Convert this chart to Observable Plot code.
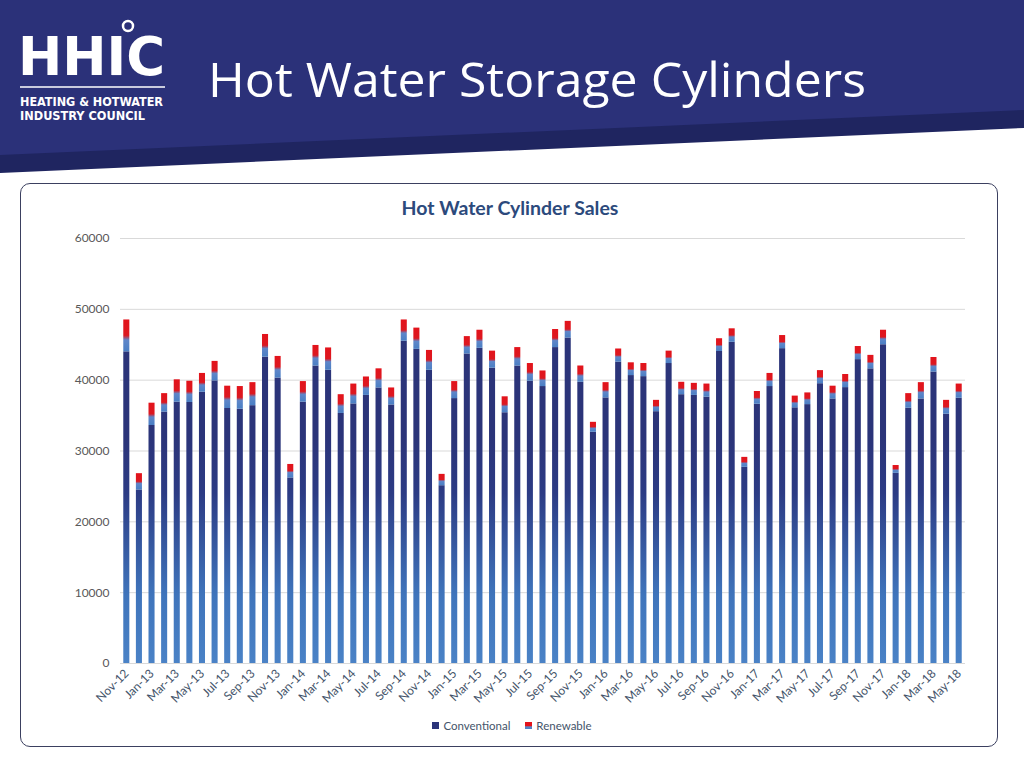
<!DOCTYPE html>
<html>
<head>
<meta charset="utf-8">
<script src="https://cdn.jsdelivr.net/npm/d3@7"></script>
<script src="https://cdn.jsdelivr.net/npm/@observablehq/plot@0.6"></script>
<style>
  html, body { margin: 0; padding: 0; background: #ffffff; }
  #page { position: relative; width: 1024px; height: 768px; overflow: hidden; background: #ffffff; }
  #header { position: absolute; left: 0; top: 0; }
  #panel { position: absolute; left: 20px; top: 183px; width: 976px; height: 562px; border: 1.5px solid #3b4060; border-radius: 10px; }
  #ctitle { position: absolute; left: 0; top: 196px; width: 1020px; text-align: center; font-family: Lato, sans-serif; font-weight: 700; font-size: 19.5px; color: #2c4a7c; }
  #chart { position: absolute; left: 20px; top: 225px; }
  #legend { position: absolute; top: 719px; left: 0; width: 1024px; text-align: center; font-family: Lato, sans-serif; font-size: 11.5px; color: #44546a; }
  #legend span.sw { display: inline-block; width: 7px; height: 7px; margin-right: 4px; vertical-align: 1px; }
  #legend span.item { margin: 0 6px; }
</style>
</head>
<body>
<div id="page">
  <svg id="header" width="1024" height="180" viewBox="0 0 1024 180">
    <polygon points="0,0 1024,0 1024,128 0,173" fill="#1f2560"></polygon>
    <polygon points="0,0 1024,0 1024,110 0,155" fill="#2b3179"></polygon>
    <text x="18" y="75" font-family="'DejaVu Sans Condensed', 'DejaVu Sans', sans-serif" font-weight="700" font-size="54" fill="#ffffff" textLength="147" lengthAdjust="spacingAndGlyphs">HHIC</text>
    <circle cx="128" cy="26" r="5" fill="none" stroke="#ffffff" stroke-width="2.5"></circle>
    <line x1="20" x2="165" y1="87" y2="87" stroke="#ffffff" stroke-width="1.5"></line>
    <text x="20" y="106" font-family="'DejaVu Sans Condensed', 'DejaVu Sans', sans-serif" font-weight="700" font-size="12.5" fill="#ffffff" textLength="143" lengthAdjust="spacingAndGlyphs">HEATING &amp; HOTWATER</text>
    <text x="20" y="120" font-family="'DejaVu Sans Condensed', 'DejaVu Sans', sans-serif" font-weight="700" font-size="12.5" fill="#ffffff" textLength="125" lengthAdjust="spacingAndGlyphs">INDUSTRY COUNCIL</text>
    <text x="208" y="97" font-family="'Open Sans', sans-serif" font-size="47" fill="#ffffff" textLength="658" lengthAdjust="spacingAndGlyphs">Hot Water Storage Cylinders</text>
  </svg>
  <div id="panel"></div>
  <div id="ctitle">Hot Water Cylinder Sales</div>
  <div id="chart"></div>
  <div id="legend">
    <span class="item"><span class="sw" style="background:#2b3479"></span>Conventional</span>
    <span class="item"><span class="sw" style="background:linear-gradient(#e3131b 0%, #e3131b 50%, #5a86c8 70%, #4a7fc4 100%)"></span>Renewable</span>
  </div>
</div>
<script>
const months = [
  "Nov-12","Dec-12",
  "Jan-13","Feb-13","Mar-13","Apr-13","May-13","Jun-13","Jul-13","Aug-13","Sep-13","Oct-13","Nov-13","Dec-13",
  "Jan-14","Feb-14","Mar-14","Apr-14","May-14","Jun-14","Jul-14","Aug-14","Sep-14","Oct-14","Nov-14","Dec-14",
  "Jan-15","Feb-15","Mar-15","Apr-15","May-15","Jun-15","Jul-15","Aug-15","Sep-15","Oct-15","Nov-15","Dec-15",
  "Jan-16","Feb-16","Mar-16","Apr-16","May-16","Jun-16","Jul-16","Aug-16","Sep-16","Oct-16","Nov-16","Dec-16",
  "Jan-17","Feb-17","Mar-17","Apr-17","May-17","Jun-17","Jul-17","Aug-17","Sep-17","Oct-17","Nov-17","Dec-17",
  "Jan-18","Feb-18","Mar-18","Apr-18","May-18"
];
const conventional = [
  44000, 24500,
  33600, 35500, 36900, 36850, 38300, 39900, 36000, 35900, 36400, 43250, 40300, 26200,
  36900, 42000, 41400, 35300, 36650, 37850, 38900, 36500, 45500, 44350, 41400, 25100,
  37400, 43700, 44500, 41700, 35400, 42000, 39850, 39100, 44600, 45950, 39700, 32650,
  37500, 42550, 40650, 40500, 35550, 42350, 37950, 37850, 37600, 44050, 45350, 27700,
  36600, 39100, 44450, 36100, 36550, 39500, 37350, 38950, 42900, 41600, 45000, 26850,
  36050, 37350, 41150, 35200, 37450
];
const renewable = [
  4500, 2300,
  3150, 2600, 3150, 3000, 2650, 2750, 3150, 3200, 3250, 3200, 3050, 1900,
  2900, 2900, 3150, 2650, 2800, 2600, 2700, 2400, 3000, 3000, 2800, 1600,
  2400, 2450, 2550, 2400, 2250, 2600, 2500, 2200, 2550, 2350, 2300, 1400,
  2150, 1850, 1800, 1850, 1600, 1750, 1750, 1700, 1850, 1800, 1900, 1400,
  1800, 1850, 1850, 1650, 1650, 1850, 1800, 1850, 1850, 1900, 2050, 1100,
  2050, 2300, 2050, 1950, 2000
];
const yTicks = [0, 10000, 20000, 30000, 40000, 50000, 60000];
const xTickLabels = months.filter((d, i) => i % 2 === 0);

const rows = months.map((m, i) => ({
  month: m,
  conv: conventional[i],
  total: conventional[i] + renewable[i]
}));

const chart = Plot.plot({
  width: 980,
  height: 490,
  marginLeft: 100,
  marginRight: 35,
  marginTop: 13,
  marginBottom: 52,
  style: {background: "transparent", fontFamily: "Lato, sans-serif", fontSize: "12px"},
  x: {domain: months, paddingInner: 0.52, paddingOuter: 0.26, axis: null, label: null},
  y: {domain: [0, 60000], axis: null, label: null},
  marks: [
    Plot.gridY(yTicks, {stroke: "#d9d9d9", strokeOpacity: 1}),
    Plot.barY(rows, {x: "month", y1: 0, y2: "conv", fill: "url(#gConv)"}),
    Plot.barY(rows, {x: "month", y1: "conv", y2: "total", fill: "url(#gRen)"}),
    Plot.axisY(yTicks, {tickSize: 0, tickPadding: 11, tickFormat: d3.format("d"), fill: "#595959", label: null}),
    Plot.axisX(xTickLabels, {tickSize: 0, tickPadding: 8, tickRotate: -45, fill: "#44546a", label: null})
  ]
});

// gradients using the chart's own y scale
const ys = chart.scale("y");
const yScale = d3.scaleLinear(ys.domain, ys.range);
const svg = d3.select(chart);
const defs = svg.insert("defs", ":first-child");
const gc = defs.append("linearGradient")
  .attr("id", "gConv")
  .attr("gradientUnits", "userSpaceOnUse")
  .attr("x1", 0).attr("x2", 0)
  .attr("y1", yScale(0)).attr("y2", yScale(32000));
[[0, "#4a82c6"], [0.3, "#3f74bb"], [0.75, "#2c3b84"], [1, "#2b3479"]].forEach(([o, c]) =>
  gc.append("stop").attr("offset", o).attr("stop-color", c));
const gr = defs.append("linearGradient")
  .attr("id", "gRen")
  .attr("x1", 0).attr("x2", 0).attr("y1", 0).attr("y2", 1);
[[0, "#e3131b"], [0.5, "#dc1820"], [0.64, "#5f86c9"], [1, "#4a7fc4"]].forEach(([o, c]) =>
  gr.append("stop").attr("offset", o).attr("stop-color", c));

document.getElementById("chart").appendChild(chart);
</script>
</body>
</html>
